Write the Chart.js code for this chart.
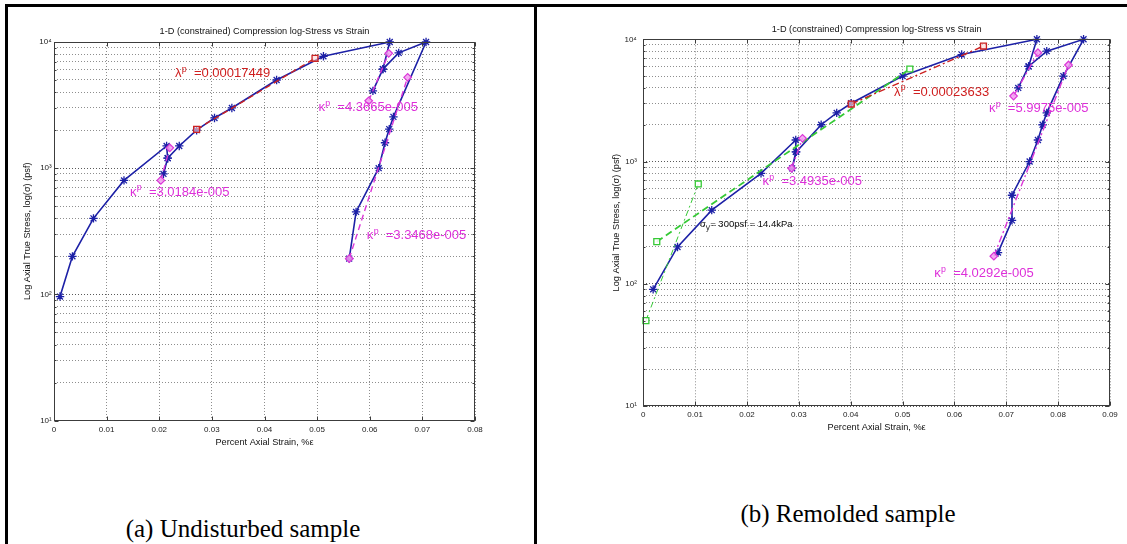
<!DOCTYPE html>
<html>
<head>
<meta charset="utf-8">
<script src="https://cdn.jsdelivr.net/npm/chart.js@4/dist/chart.umd.min.js"></script>
<style>
  html, body { margin: 0; padding: 0; background: #fff; }
  #page { position: relative; width: 1127px; height: 544px; overflow: hidden; background: #fff; }
  .panel { position: absolute; top: 0; }
  .rule { position: absolute; background: #000; }
  .caption {
    position: absolute; white-space: nowrap; color: #000;
    font-family: "Liberation Serif", "Times New Roman", serif; font-size: 25px;
    transform: translate(-50%, -50%);
  }
</style>
</head>
<body>
<div id="page">
  <div class="panel" style="left:0px"><canvas id="chartA" width="534" height="460"></canvas></div>
  <div class="panel" style="left:537px"><canvas id="chartB" width="590" height="460"></canvas></div>
  <div class="rule" style="left:5px;top:4px;width:1122px;height:3px"></div>
  <div class="rule" style="left:5px;top:4px;width:3px;height:540px"></div>
  <div class="rule" style="left:534px;top:4px;width:3px;height:540px"></div>
  <div class="caption" style="left:243px;top:529px">(a) Undisturbed sample</div>
  <div class="caption" style="left:848px;top:514px">(b) Remolded sample</div>
</div>
<script>
// ---------- (a) Undisturbed sample ----------
// measured path: loading with two unload/reload loops, then final unloading
const strainA = [0.00114, 0.0035, 0.0075, 0.0133, 0.0214, 0.0216, 0.0208, 0.0216, 0.0238, 0.0271,
                 0.0305, 0.0338, 0.0423, 0.0512, 0.0638, 0.0625, 0.0606, 0.0625, 0.0655, 0.0707,
                 0.0645, 0.0637, 0.0629, 0.0617, 0.0574, 0.0561];
const stressA = [96, 200, 400, 800, 1500, 1200, 900, 1200, 1500, 2000,
                 2500, 3000, 5000, 7700, 10000, 6100, 4100, 6100, 8200, 10000,
                 2550, 2040, 1590, 1000, 450, 192];
// virgin compression line (lambda) end points
const lambdaStrainA = [0.0271, 0.0496];
const lambdaStressA = [2030, 7430];
// unload/reload lines (kappa) end points
const kappaStrainA = [[0.0203, 0.0220], [0.0598, 0.0636], [0.0561, 0.0672]];
const kappaStressA = [[800, 1450], [3420, 8130], [192, 5245]];
// slope annotations
const fitSymbolA = ['λ', 'κ', 'κ', 'κ'];
const fitValueA = ['0.00017449', '3.0184e-005', '4.3665e-005', '3.3468e-005'];
const fitLabelStrainA = [0.0230, 0.01445, 0.05025, 0.05945];
const fitLabelStressA = [5705, 657, 3068, 298];

// ---------- (b) Remolded sample ----------
const strainB = [0.0019, 0.0066, 0.0132, 0.0227, 0.0294, 0.0294, 0.0287, 0.0295, 0.0343, 0.0373,
                 0.0401, 0.0500, 0.0614, 0.0759, 0.0743, 0.0723, 0.0743, 0.0778, 0.0849, 0.0810,
                 0.0778, 0.0770, 0.0761, 0.0745, 0.0711, 0.0711, 0.0684];
const stressB = [90, 200, 400, 800, 1500, 1200, 880, 1200, 2000, 2500,
                 3000, 5000, 7500, 10000, 6000, 4000, 6000, 8000, 10000, 5000,
                 2500, 2000, 1500, 1000, 530, 330, 180];
const lambdaStrainB = [0.0401, 0.0656];
const lambdaStressB = [2955, 8810];
const kappaStrainB = [[0.0286, 0.0307], [0.0714, 0.0761], [0.0676, 0.0820]];
const kappaStressB = [[880, 1549], [3436, 7766], [168, 6160]];
// Casagrande-style construction for the yield stress
const yieldSteepStrainB = [0.0005, 0.0106];
const yieldSteepStressB = [50, 655];
const yieldFlatStrainB = [0.0026, 0.0514];
const yieldFlatStressB = [221, 5715];
const fitSymbolB = ['λ', 'κ', 'κ', 'κ'];
const fitValueB = ['0.00023633', '3.4935e-005', '5.9975e-005', '4.0292e-005'];
const fitLabelStrainB = [0.04836, 0.0230, 0.06667, 0.05612];
const fitLabelStressB = [3776, 697, 2756, 124];
const yieldLabelStrainB = 0.01094;
const yieldLabelStressB = 312;

// ---------- axes ----------
const xTicksA = [0, 0.01, 0.02, 0.03, 0.04, 0.05, 0.06, 0.07, 0.08];
const xTickLabelsA = ['0', '0.01', '0.02', '0.03', '0.04', '0.05', '0.06', '0.07', '0.08'];
const xTicksB = [0, 0.01, 0.02, 0.03, 0.04, 0.05, 0.06, 0.07, 0.08, 0.09];
const xTickLabelsB = ['0', '0.01', '0.02', '0.03', '0.04', '0.05', '0.06', '0.07', '0.08', '0.09'];
const yDecades = [10, 100, 1000, 10000];
const yTickLabels = ['10¹', '10²', '10³', '10⁴'];
const yGridStress = [10, 20, 30, 40, 50, 60, 70, 80, 90,
                     100, 200, 300, 400, 500, 600, 700, 800, 900,
                     1000, 2000, 3000, 4000, 5000, 6000, 7000, 8000, 9000, 10000];

const TITLE = '1-D (constrained) Compression log-Stress vs Strain';
const X_TITLE = 'Percent Axial Strain, %ε';
const Y_TITLE = 'Log Axial True Stress, log(σ) (psf)';

const BLUE = '#1c20a6', PINK = '#dc38d8', RED = '#cc2222', GREEN = '#35c935';
const GRID = '#8e8e8e', GRID_MAJOR = '#5a5a5a', AXIS = '#3c3c3c';
const SANS = '"Liberation Sans", Arial, Helvetica, sans-serif';

const isDecade = v => Math.abs(Math.log10(v) - Math.round(Math.log10(v))) < 1e-9;
const pts = (xs, ys) => xs.map((v, i) => ({ x: v, y: ys[i] }));

// box around the plot area with inward tick marks
const axisBoxPlugin = {
  id: 'axisBox',
  afterDraw(chart) {
    const { ctx, chartArea: a } = chart;
    const xs = chart.scales.x, ys = chart.scales.y;
    const L = Math.round(a.left) + 0.5, R = Math.round(a.right) - 0.5;
    const T = Math.round(a.top) + 0.5, B = Math.round(a.bottom) - 0.5;
    ctx.save();
    ctx.setLineDash([]);
    ctx.strokeStyle = AXIS;
    ctx.lineWidth = 1;
    ctx.strokeRect(L, T, R - L, B - T);
    ctx.beginPath();
    xs.ticks.forEach(t => {
      const p = Math.round(xs.getPixelForValue(t.value)) + 0.5;
      ctx.moveTo(p, B); ctx.lineTo(p, B - 4);
      ctx.moveTo(p, T); ctx.lineTo(p, T + 4);
    });
    ys.ticks.forEach(t => {
      const p = Math.round(ys.getPixelForValue(t.value)) + 0.5;
      const len = isDecade(t.value) ? 4 : 2;
      ctx.moveTo(L, p); ctx.lineTo(L + len, p);
      ctx.moveTo(R, p); ctx.lineTo(R - len, p);
    });
    ctx.stroke();
    ctx.restore();
  }
};

// slope annotations such as "κ^p =3.0184e-005" and the yield-stress note
const fitLabelPlugin = {
  id: 'fitLabels',
  afterDraw(chart, args, opts) {
    const { ctx } = chart;
    const xs = chart.scales.x, ys = chart.scales.y;
    ctx.save();
    ctx.textAlign = 'left';
    ctx.textBaseline = 'alphabetic';
    (opts.items || []).forEach(it => {
      const px = xs.getPixelForValue(it.strain);
      const py = ys.getPixelForValue(it.stress);
      const s = it.size;
      const base = py + 0.36 * s;
      ctx.fillStyle = it.color;
      if (it.sub) {
        ctx.font = `${s}px ${SANS}`;
        ctx.fillText(it.symbol, px, base);
        const w = ctx.measureText(it.symbol).width;
        ctx.font = `${s * 0.8}px ${SANS}`;
        ctx.fillText(it.sub, px + w, base + s * 0.35);
        ctx.font = `${s}px ${SANS}`;
        ctx.fillText(it.text, px + w + s * 0.45, base);
      } else {
        ctx.font = `${s}px ${SANS}`;
        ctx.fillText(it.symbol, px, base);
        const w = ctx.measureText(it.symbol).width;
        ctx.font = `${s * 0.68}px ${SANS}`;
        ctx.fillText('p', px + w + 0.3, base - s * 0.42);
        ctx.font = `${s}px ${SANS}`;
        ctx.fillText('=' + it.value, px + s * 1.45, base);
      }
    });
    ctx.restore();
  }
};

function fitItems(symbols, values, strains, stresses) {
  return symbols.map((sym, i) => ({
    symbol: sym, value: values[i], strain: strains[i], stress: stresses[i],
    color: sym === 'λ' ? '#cf1f1f' : '#dd2fd9', size: 13
  }));
}

function mainDataset(xs, ys) {
  return {
    data: pts(xs, ys), showLine: true, borderColor: BLUE, borderWidth: 1.6,
    pointStyle: 'star', pointRadius: 4.2, pointBorderWidth: 1.3,
    pointBorderColor: BLUE, pointBackgroundColor: BLUE, order: 5, clip: false
  };
}
function lambdaDataset(xs, ys, dash) {
  return {
    data: pts(xs, ys), showLine: true, borderColor: RED, borderWidth: 1.4, borderDash: dash,
    pointStyle: 'rect', pointRadius: 4.2, pointBorderWidth: 1.3,
    pointBorderColor: RED, pointBackgroundColor: 'rgba(255,215,215,0.6)', order: 2, clip: false
  };
}
function kappaDataset(xs, ys, dash) {
  return {
    data: pts(xs, ys), showLine: true, borderColor: PINK, borderWidth: 1.4, borderDash: dash,
    pointStyle: 'rectRot', pointRadius: 3.8, pointBorderWidth: 1.2,
    pointBorderColor: PINK, pointBackgroundColor: 'rgba(242,160,240,0.85)', order: 1, clip: false
  };
}
function yieldDataset(xs, ys, dash, width) {
  return {
    data: pts(xs, ys), showLine: true, borderColor: GREEN, borderWidth: width, borderDash: dash,
    pointStyle: 'rect', pointRadius: 4.2, pointBorderWidth: 1.3,
    pointBorderColor: GREEN, pointBackgroundColor: 'rgba(255,255,255,0.85)', order: 3, clip: false
  };
}

function makeOptions(cfg) {
  return {
    responsive: false,
    animation: false,
    events: [],
    layout: { padding: { left: 0, right: cfg.padRight, top: 0, bottom: 0 } },
    plugins: {
      legend: { display: false },
      tooltip: { enabled: false },
      title: {
        display: true, text: TITLE, fullSize: false, color: '#111',
        font: { family: SANS, size: 9.2, weight: 'normal' },
        padding: { top: cfg.titleTop, bottom: cfg.titleBottom }
      },
      fitLabels: { items: cfg.labels }
    },
    elements: { line: { tension: 0, fill: false } },
    scales: {
      x: {
        type: 'linear', min: 0, max: cfg.xMax,
        afterBuildTicks: s => { s.ticks = cfg.xTicks.map(v => ({ value: v })); },
        afterFit: s => { s.height = cfg.xAxisHeight; },
        ticks: {
          callback: (v, i) => cfg.xTickLabels[i],
          font: { family: SANS, size: 8 }, color: '#222',
          padding: 4.2, maxRotation: 0, autoSkip: false
        },
        grid: { color: GRID, lineWidth: 1, drawTicks: false },
        border: { display: false, dash: [1, 2] },
        title: {
          display: true, text: X_TITLE, color: '#111',
          font: { family: SANS, size: 9.2 },
          padding: { top: 0, bottom: cfg.xTitlePad }
        }
      },
      y: {
        type: 'logarithmic', min: 10, max: 10000,
        afterBuildTicks: s => { s.ticks = yGridStress.map(v => ({ value: v })); },
        afterFit: s => { s.width = cfg.yAxisWidth; },
        ticks: {
          callback: v => { const k = yDecades.indexOf(v); return k >= 0 ? yTickLabels[k] : ''; },
          font: { family: SANS, size: 8 }, color: '#222',
          padding: cfg.yTickPad, autoSkip: false
        },
        grid: {
          color: c => (c.tick && isDecade(c.tick.value)) ? GRID_MAJOR : GRID,
          lineWidth: 1, drawTicks: false
        },
        border: { display: false, dash: [1, 2] },
        title: {
          display: true, text: Y_TITLE, color: '#111',
          font: { family: SANS, size: 9.2 },
          padding: { top: cfg.yTitlePad, bottom: 0 }
        }
      }
    }
  };
}

// ---------- chart (a) ----------
new Chart(document.getElementById('chartA'), {
  type: 'scatter',
  data: {
    datasets: [
      mainDataset(strainA, stressA),
      lambdaDataset(lambdaStrainA, lambdaStressA, [6, 4]),
      ...kappaStrainA.map((xs, i) => kappaDataset(xs, kappaStressA[i], [6, 4]))
    ]
  },
  options: makeOptions({
    padRight: 59, titleTop: 25.98, titleBottom: 4.98,
    xMax: 0.08, xTicks: xTicksA, xTickLabels: xTickLabelsA,
    xAxisHeight: 39.5, xTitlePad: 11.8,
    yAxisWidth: 54, yTickPad: 2.3, yTitlePad: 22,
    labels: fitItems(fitSymbolA, fitValueA, fitLabelStrainA, fitLabelStressA)
  }),
  plugins: [axisBoxPlugin, fitLabelPlugin]
});

// ---------- chart (b) ----------
new Chart(document.getElementById('chartB'), {
  type: 'scatter',
  data: {
    datasets: [
      mainDataset(strainB, stressB),
      lambdaDataset(lambdaStrainB, lambdaStressB, [7, 3, 2, 3]),
      ...kappaStrainB.map((xs, i) => kappaDataset(xs, kappaStressB[i], [7, 3, 2, 3])),
      yieldDataset(yieldSteepStrainB, yieldSteepStressB, [6, 3, 2, 3], 1),
      yieldDataset(yieldFlatStrainB, yieldFlatStressB, [7, 4], 1.8)
    ]
  },
  options: makeOptions({
    padRight: 17, titleTop: 23.48, titleBottom: 4.78,
    xMax: 0.09, xTicks: xTicksB, xTickLabels: xTickLabelsB,
    xAxisHeight: 54, xTitlePad: 27.5,
    yAxisWidth: 106.3, yTickPad: 6.5, yTitlePad: 73.5,
    labels: fitItems(fitSymbolB, fitValueB, fitLabelStrainB, fitLabelStressB).concat([{
      symbol: 'σ', sub: 'y', text: '= 300psf = 14.4kPa',
      strain: yieldLabelStrainB, stress: yieldLabelStressB, color: '#111', size: 9.5
    }])
  }),
  plugins: [axisBoxPlugin, fitLabelPlugin]
});
</script>
</body>
</html>
